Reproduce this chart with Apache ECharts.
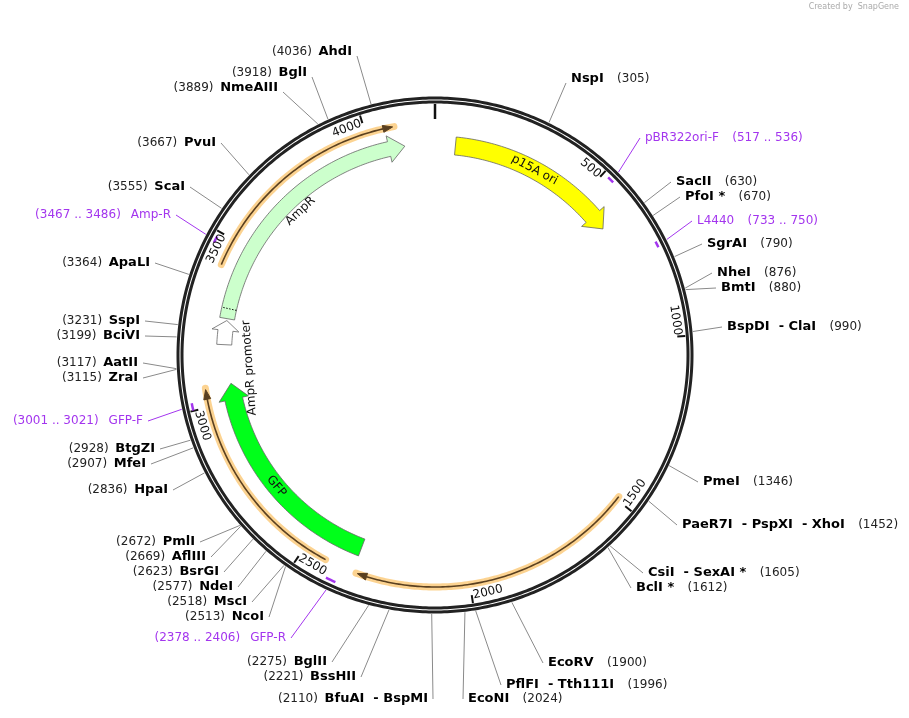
<!DOCTYPE html>
<html>
<head>
<meta charset="utf-8">
<script src="https://cdn.jsdelivr.net/npm/echarts@6/dist/echarts.min.js"></script>
<style>html,body{margin:0;background:#fff}#main{width:909px;height:718px}</style>
</head>
<body>
<div id="main"></div>
<script>
// plasmid data
var plasmidName = 'pDY380';
var plasmidLen = 4203;
var tickMarks = [500, 1000, 1500, 2000, 2500, 3000, 3500, 4000];

// restriction sites
var siteNames = ['NspI','SacII','PfoI *','SgrAI','NheI','BmtI','BspDI  - ClaI','PmeI','PaeR7I  - PspXI  - XhoI','CsiI  - SexAI *','BclI *','EcoRV','PflFI  - Tth111I','EcoNI','BfuAI  - BspMI','BssHII','BglII','NcoI','MscI','NdeI','BsrGI','AflIII','PmlI','HpaI','MfeI','BtgZI','ZraI','AatII','BciVI','SspI','ApaLI','ScaI','PvuI','NmeAIII','BglI','AhdI'];
var sitePos = [305,630,670,790,876,880,990,1346,1452,1605,1612,1900,1996,2024,2110,2221,2275,2513,2518,2577,2623,2669,2672,2836,2907,2928,3115,3117,3199,3231,3364,3555,3667,3889,3918,4036];
// label layout: [side, x, y]
var siteLabelAt = [['R',571,79],['R',676,182],['R',685,197],['R',707,244],['R',717,273],['R',721,288],['R',727,327],['R',703,482],['R',682,525],['R',648,573],['R',636,588],['R',548,663],['R',506,685],['R',468,699],
  ['L',428,699],['L',356,677],['L',327,662],['L',264,617],['L',247,602],['L',233,587],['L',219,572],['L',206,557],['L',195,542],['L',168,490],['L',146,464],['L',155,449],['L',138,378],['L',138,363],['L',140,336],['L',140,321],['L',150,263],['L',185,187],['L',216,143],['L',278,88],['L',307,73],['L',352,52]];

// primers
var primerNames = ['pBR322ori-F','L4440','GFP-R','GFP-F','Amp-R'];
var primerStart = [517,733,2378,3001,3467];
var primerEnd = [536,750,2406,3021,3486];
var primerLabelAt = [['R',645,138],['R',697,221],['L',286,638],['L',143,421],['L',171,215]];

// features [start, end] (end = arrow head side)
var featNames = ['p15A ori','AmpR','AmpR promoter','GFP'];
var featStart = [65, 3268, 3185, 2345];
var featEnd = [620, 4107, 3262, 3060];
var featColor = ['#ffff00','#ccffcc','#ffffff','#00ff1a'];
var featRadius = [210, 211, 211, 206];
var featWidth = [18, 15, 15, 18];
var featLabelBp = [330, 3700, 3106, 2690];
var featLabelR = [210, 197, 186, 206];

// thin orange features
var orangeStart = [3420, 1490, 2430];
var orangeEnd = [4080, 2330, 3052];

var myChart = echarts.init(document.getElementById('main'));
var FONT = '"DejaVu Sans", Verdana, sans-serif';
var PURPLE = '#a335ee';

function theta(bp) { return bp / plasmidLen * Math.PI * 2; }

function renderAll(params, api) {
  var els = [];
  function pt(r, bp) { return api.coord([r, ((bp % plasmidLen) + plasmidLen) % plasmidLen]); }
  function arc(r, a0, a1) {
    var n = Math.max(4, Math.ceil(Math.abs(a1 - a0) / 8)), pts = [];
    for (var i = 0; i <= n; i++) pts.push(pt(r, a0 + (a1 - a0) * i / n));
    return pts;
  }
  function rot(bp, noFlip) {
    var t = theta(bp), deg = t * 180 / Math.PI;
    var r = -t;
    if (!noFlip && deg > 90 && deg < 270) r += Math.PI;
    return r;
  }
  function arcText(txt, r, bp, size, color, noFlip) {
    var p = pt(r, bp);
    els.push({ type: 'text', x: p[0], y: p[1], rotation: rot(bp, noFlip), z2: 20,
      style: { text: txt, align: 'center', verticalAlign: 'middle', font: size + 'px ' + FONT, fill: color } });
  }
  // leader lines + labels
  function label(side, x, y, rich, ringBp, color) {
    var s = pt(259, ringBp);
    var ex = side === 'L' ? x + 5 : x - 5;
    var ey = y + (y < 95 ? 4 : 0);
    els.push({ type: 'line', shape: { x1: s[0], y1: s[1], x2: ex, y2: ey }, style: { stroke: color, lineWidth: 1 } });
    els.push({ type: 'text', x: x, y: y, style: { text: rich, align: side === 'L' ? 'right' : 'left', verticalAlign: 'middle',
      rich: { n: { font: 'bold 13px ' + FONT, fill: '#000' }, p: { font: '12px ' + FONT, fill: '#222' }, q: { font: '12px ' + FONT, fill: PURPLE } } } });
  }
  siteNames.forEach(function (nm, i) {
    var L = siteLabelAt[i];
    var txt = L[0] === 'L' ? '{p|(' + sitePos[i] + ')}  {n|' + nm + '}' : '{n|' + nm + '}    {p|(' + sitePos[i] + ')}';
    label(L[0], L[1], L[2], txt, sitePos[i], '#8a8a8a');
  });
  primerNames.forEach(function (nm, i) {
    var L = primerLabelAt[i];
    var rng = '(' + primerStart[i] + ' .. ' + primerEnd[i] + ')';
    var txt = L[0] === 'L' ? '{q|' + rng + '}   {q|' + nm + '}' : '{q|' + nm + '}    {q|' + rng + '}';
    var mid = (primerStart[i] + primerEnd[i]) / 2;
    label(L[0], L[1], L[2], txt, mid, PURPLE);
    els.push({ type: 'polyline', shape: { points: arc(248, primerStart[i], primerEnd[i]) }, style: { stroke: PURPLE, lineWidth: 2.5, fill: null }, z2: 15 });
  });
  // ring
  var ringPts = arc(257, 0, plasmidLen), ringPts2 = arc(253, 0, plasmidLen);
  els.push({ type: 'polygon', shape: { points: ringPts }, style: { stroke: '#222', lineWidth: 3, fill: '#fff' }, z2: 5 });
  els.push({ type: 'polygon', shape: { points: ringPts2 }, style: { stroke: '#222', lineWidth: 3, fill: '#fff' }, z2: 6 });
  // ticks
  var t0a = pt(251, 0), t0b = pt(236, 0);
  els.push({ type: 'line', shape: { x1: t0a[0], y1: t0a[1], x2: t0b[0], y2: t0b[1] }, style: { stroke: '#111', lineWidth: 2.5 }, z2: 10 });
  tickMarks.forEach(function (bp) {
    var a = pt(251, bp), b = pt(243, bp);
    els.push({ type: 'line', shape: { x1: a[0], y1: a[1], x2: b[0], y2: b[1] }, style: { stroke: '#111', lineWidth: 2 }, z2: 10 });
    var txt = String(bp), off = (txt.length * 3.6 + 2) / 242 * plasmidLen / (2 * Math.PI);
    arcText(txt, 243, bp - off, 12, '#111');
  });
  // orange thin features
  orangeStart.forEach(function (a0, i) {
    var a1 = orangeEnd[i], dir = a1 > a0 ? 1 : -1, h = 28 * dir;
    var body = arc(232, a0, a1 - h);
    els.push({ type: 'polyline', shape: { points: arc(232, a0, a1 + 4 * dir) }, style: { stroke: 'rgba(251,196,108,0.75)', lineWidth: 7, fill: null, lineCap: 'round' }, z2: 11 });
    els.push({ type: 'polyline', shape: { points: body }, style: { stroke: '#5a4020', lineWidth: 1.6, fill: null }, z2: 12 });
    els.push({ type: 'polygon', shape: { points: [pt(235.5, a1 - h), pt(232, a1), pt(228.5, a1 - h)] }, style: { fill: '#5a4020', stroke: '#5a4020', lineWidth: 1 }, z2: 12 });
  });
  // feature arrows
  featNames.forEach(function (nm, i) {
    var a0 = featStart[i], a1 = featEnd[i], r = featRadius[i], w = featWidth[i] / 2;
    var dir = a1 > a0 ? 1 : -1;
    var hLen = (i === 2 ? 10 : 16) / r * plasmidLen / (2 * Math.PI) * dir;
    var hw = w + 6;
    var pts = arc(r + w, a0, a1 - hLen)
      .concat([pt(r + hw, a1 - hLen), pt(r, a1), pt(r - hw, a1 - hLen)])
      .concat(arc(r - w, a1 - hLen, a0));
    els.push({ type: 'polygon', shape: { points: pts }, style: { fill: featColor[i], stroke: '#666', lineWidth: 0.8 }, z2: 13 });
    arcText(nm, featLabelR[i], featLabelBp[i], 12, '#111', i === 2);
  });
  // dotted line on AmpR start
  var d1 = pt(203.5, 3300), d2 = pt(218.5, 3300);
  els.push({ type: 'line', shape: { x1: d1[0], y1: d1[1], x2: d2[0], y2: d2[1] }, style: { stroke: '#111', lineWidth: 1, lineDash: [1.5, 1.5] }, z2: 14 });
  // center text
  var c = api.coord([0, 0]);
  els.push({ type: 'text', x: c[0], y: c[1] - 6, style: { text: plasmidName, align: 'center', verticalAlign: 'middle', font: 'bold 15px ' + FONT, fill: '#111' } });
  els.push({ type: 'text', x: c[0], y: c[1] + 10, style: { text: plasmidLen + ' bp', align: 'center', verticalAlign: 'middle', font: '11px ' + FONT, fill: '#111' } });
  return { type: 'group', children: els };
}

var option = {
  animation: false,
  polar: { center: [435, 355], radius: 258 },
  angleAxis: { type: 'value', min: 0, max: plasmidLen, startAngle: 90, clockwise: true, show: false },
  radiusAxis: { type: 'value', min: 0, max: 258, show: false },
  graphic: [{ type: 'text', right: 10, top: 3, style: { text: 'Created by  SnapGene', font: '8px ' + FONT, fill: '#aaa' } }],
  series: [{ type: 'custom', coordinateSystem: 'polar', data: [[0, 0]], renderItem: renderAll, silent: true }]
};
myChart.setOption(option);
</script>
</body>
</html>
